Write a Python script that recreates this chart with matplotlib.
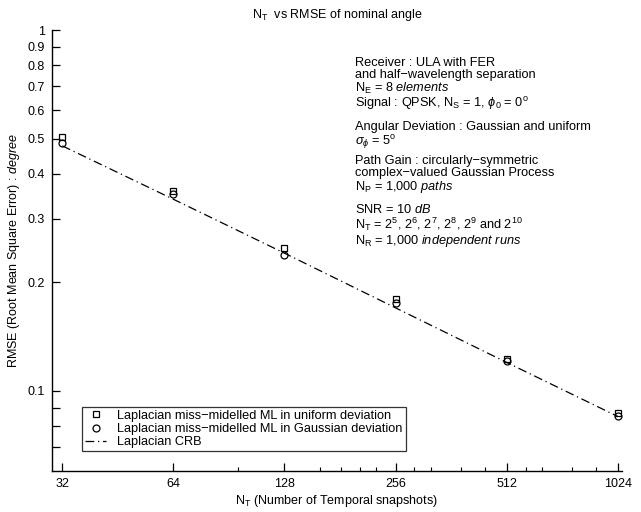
import matplotlib.pyplot as plt

plt.rcParams['font.family'] = ['Liberation Sans', 'DejaVu Sans']
plt.rcParams['mathtext.fontset'] = 'custom'
plt.rcParams['mathtext.rm'] = 'Liberation Sans'
plt.rcParams['mathtext.it'] = 'Liberation Sans:italic'
plt.rcParams['mathtext.bf'] = 'Liberation Sans:bold'

# snapshot counts and RMSE results
n_t = [32, 64, 128, 256, 512, 1024]
rmse_uniform = [0.507, 0.358, 0.249, 0.180, 0.123, 0.087]
rmse_gauss = [0.488, 0.352, 0.238, 0.175, 0.121, 0.085]
crb = [0.478, 0.340, 0.241, 0.170, 0.120, 0.085]

x_minor = [96, 160, 182, 205, 227, 288, 320, 384, 448, 576, 640, 768, 896]
y_ticks = [0.07, 0.08, 0.09, 0.1, 0.2, 0.3, 0.4, 0.5, 0.6, 0.7, 0.8, 0.9, 1.0]
y_labels = ['', '', '', '0.1', '0.2', '0.3', '0.4', '0.5', '0.6', '0.7', '0.8', '0.9', '1']

# simulation settings, one block per group
info_groups = [
    ['Receiver : ULA with FER',
     'and half\u2212wavelength separation',
     r'N$_\mathrm{E}$ = 8 $\mathit{elements}$',
     r'Signal : QPSK, N$_\mathrm{S}$ = 1, $\phi_\mathrm{0}$ = 0$^\mathrm{o}$'],
    ['Angular Deviation : Gaussian and uniform',
     r'$\sigma_\phi$ = 5$^\mathrm{o}$'],
    ['Path Gain : circularly\u2212symmetric',
     'complex\u2212valued Gaussian Process',
     r'N$_\mathrm{P}$ = 1,000 $\mathit{paths}$'],
    [r'SNR = 10 $\mathit{dB}$',
     r'N$_\mathrm{T}$ = 2$^\mathrm{5}$, 2$^\mathrm{6}$, 2$^\mathrm{7}$, 2$^\mathrm{8}$, 2$^\mathrm{9}$ and 2$^\mathrm{10}$',
     r'N$_\mathrm{R}$ = 1,000 $\mathit{independent\ runs}$'],
]
info_top = [57, 121, 155, 203]

fig = plt.figure(figsize=(6.41, 5.12), dpi=100)
ax = fig.add_axes([0.081, 0.080, 0.889, 0.861])

ax.plot(n_t, rmse_uniform, 's', mfc='none', mec='black', ms=4.5, mew=0.9,
        label='Laplacian miss\u2212midelled ML in uniform deviation')
ax.plot(n_t, rmse_gauss, 'o', mfc='none', mec='black', ms=5, mew=0.9,
        label='Laplacian miss\u2212midelled ML in Gaussian deviation')
ax.plot(n_t, crb, color='black', lw=0.9, ls=(0, (7, 3, 1, 3)),
        label='Laplacian CRB')

ax.set_xscale('log', base=2)
ax.set_yscale('log')
ax.set_xlim(30, 1050)
ax.set_ylim(0.06, 1.0)

ax.set_xticks(n_t)
ax.set_xticklabels([str(v) for v in n_t])
ax.set_xticks(x_minor, minor=True)
ax.set_xticklabels([], minor=True)
ax.set_yticks(y_ticks)
ax.set_yticklabels(y_labels)
ax.set_yticks([], minor=True)

ax.tick_params(axis='both', which='major', direction='in', length=6, width=0.9,
               labelsize=9, pad=5)
ax.tick_params(axis='x', which='minor', direction='in', length=3, width=0.8)

for side in ['top', 'right']:
    ax.spines[side].set_visible(False)
for side in ['left', 'bottom']:
    ax.spines[side].set_linewidth(1.0)

ax.set_title(r'N$_\mathrm{T}$  vs RMSE of nominal angle', fontsize=9, pad=9)
ax.set_xlabel(r'N$_\mathrm{T}$ (Number of Temporal snapshots)', fontsize=9, labelpad=2)
ax.set_ylabel(r'RMSE (Root Mean Square Error) : $\mathit{degree}$', fontsize=9, labelpad=4)

for group, ytop in zip(info_groups, info_top):
    fig.text(355 / 641, 1 - ytop / 512, '\n'.join(group), fontsize=9.2,
             va='top', ha='left', linespacing=0.98)

leg = ax.legend(loc='lower left', bbox_to_anchor=(0.053, 0.045), borderaxespad=0,
                fontsize=9.2, frameon=True, fancybox=False, edgecolor='black',
                handlelength=1.6, handletextpad=0.9, borderpad=0.25, labelspacing=0.08)
leg.get_frame().set_linewidth(0.9)

fig.savefig('out.png', dpi=100)
plt.close(fig)
